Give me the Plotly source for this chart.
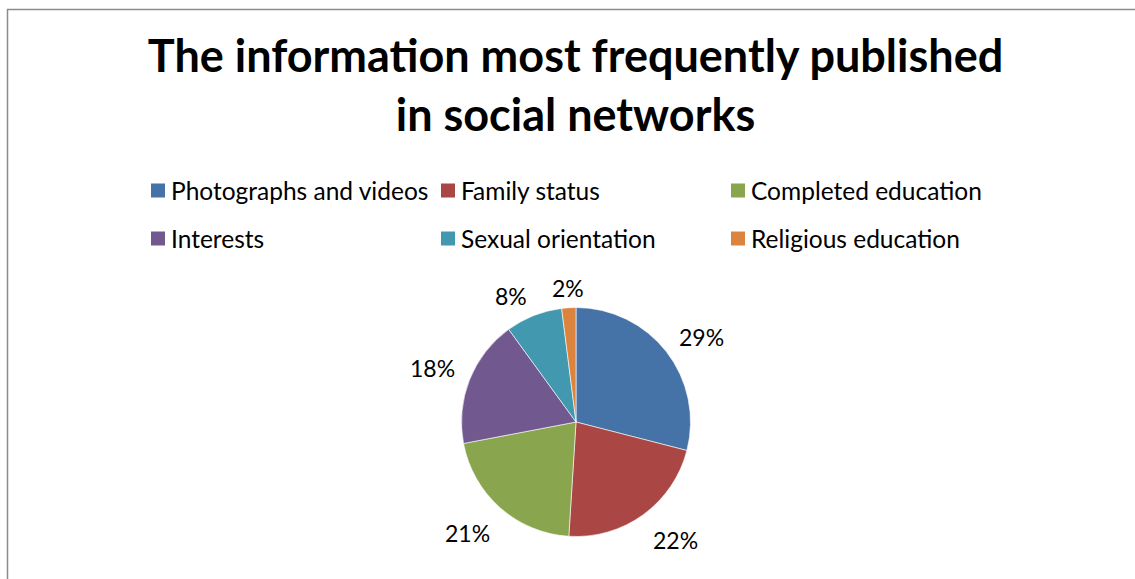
import math
import plotly.graph_objects as go

# Share of respondents by type of information they publish
categories = ["Photographs and videos", "Family status", "Completed education",
              "Interests", "Sexual orientation", "Religious education"]
shares = [29, 22, 21, 18, 8, 2]
colors = ["#4572A7", "#AA4643", "#89A54E", "#71588F", "#4198AF", "#DB843D"]

W, H = 1135, 579
FONT = "Lato"

# pie geometry (pixels)
CX, CY, R = 576, 422, 114.5


def px(x):
    return x / W


def py(y):
    return 1 - y / H


fig = go.Figure()
fig.add_trace(go.Pie(
    labels=categories,
    values=shares,
    sort=False,
    direction="clockwise",
    rotation=0,
    textinfo="none",
    hoverinfo="label+percent",
    marker=dict(colors=colors, line=dict(color="#ffffff", width=0.6)),
    domain=dict(x=[px(CX - R), px(CX + R)], y=[py(CY + R), py(CY - R)]),
    showlegend=False,
))

annotations = []
shapes = []

# percentage labels just outside the rim, at each slice's middle angle
total = sum(shares)
start = 0.0
gap = 13      # distance from rim to the nearest corner of the label
half_h = 11   # half height of a label box
drop = 4      # labels sit slightly below the geometric position
for v in shares:
    mid = (start + v / 2) / total * 2 * math.pi
    start += v
    s, c = math.sin(mid), math.cos(mid)
    ax = CX + (R + gap) * s
    ay = CY - (R + gap) * c
    if abs(s) < 0.2:
        xa = "center"
    else:
        xa = "left" if s > 0 else "right"
    ay = ay - half_h if c > 0 else ay + half_h
    annotations.append(dict(
        x=px(ax), y=py(ay + drop), xref="paper", yref="paper",
        text=f"{v}%", showarrow=False, xanchor=xa, yanchor="middle",
        font=dict(family=FONT, size=23, color="#000000"),
    ))

# legend: three columns, two rows
col_x = [151, 441, 731]
row_y = [190.5, 238.5]
sq = 14
for i, (name, col) in enumerate(zip(categories, colors)):
    x0 = col_x[i % 3]
    yc = row_y[i // 3]
    shapes.append(dict(
        type="rect", xref="paper", yref="paper",
        x0=px(x0), x1=px(x0 + sq), y0=py(yc + sq / 2), y1=py(yc - sq / 2),
        fillcolor=col, line=dict(width=0),
    ))
    annotations.append(dict(
        x=px(x0 + 18), y=py(yc), xref="paper", yref="paper",
        text=name, showarrow=False, xanchor="left", yanchor="middle",
        font=dict(family=FONT, size=24.5, color="#000000"),
    ))

# chart frame
shapes.append(dict(
    type="rect", xref="paper", yref="paper",
    x0=px(7.5), x1=1.05, y0=-0.05, y1=py(9.5),
    line=dict(color="#8c8c8c", width=1.5), fillcolor="rgba(0,0,0,0)",
))

fig.update_layout(
    width=W, height=H,
    margin=dict(l=0, r=0, t=0, b=0),
    paper_bgcolor="#ffffff",
    plot_bgcolor="#ffffff",
    title=dict(
        text="<b>The information most frequently published<br>in social networks</b>",
        x=px(575.5), xanchor="center",
        y=py(72), yanchor="middle", xref="paper", yref="paper",
        font=dict(family=FONT, size=45, color="#000000"),
    ),
    annotations=annotations,
    shapes=shapes,
)

fig.write_html("out.html")
